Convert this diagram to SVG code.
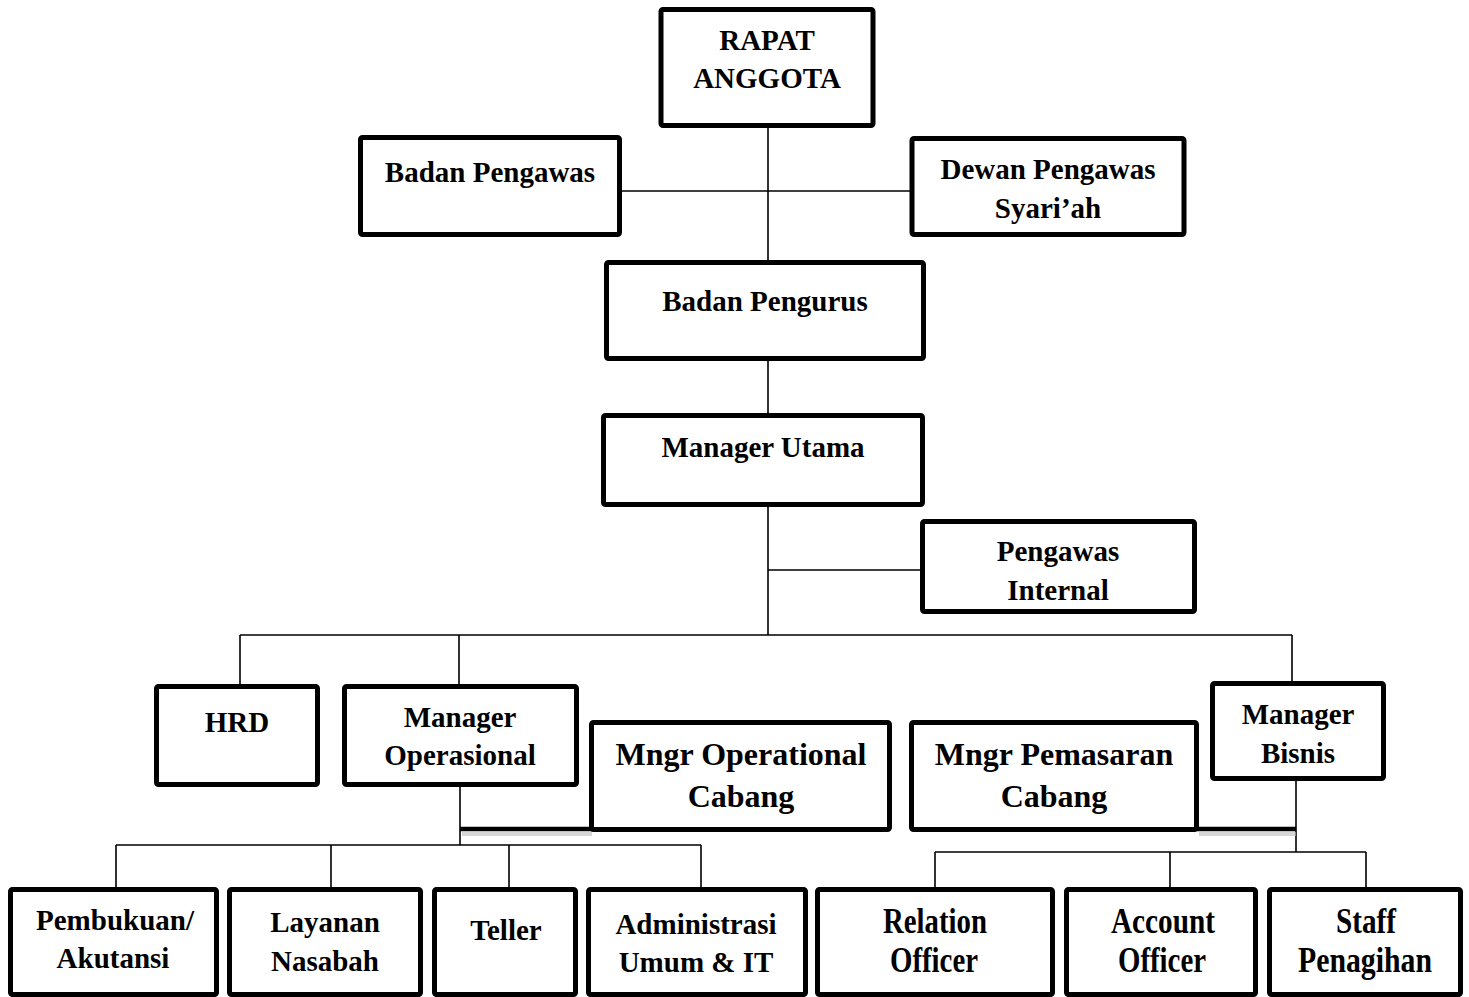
<svg xmlns="http://www.w3.org/2000/svg" width="1469" height="997" viewBox="0 0 1469 997">
<style>
.box{fill:#fff;stroke:#000;stroke-width:5}
.t{font-family:"Liberation Serif","Times New Roman",serif;font-weight:bold;font-size:29px;fill:#000;text-anchor:middle}
.b{font-size:32px}
.c{font-size:36px}
.ln{stroke:#000;stroke-width:1.6;fill:none}
.thick{stroke:#000;stroke-width:4.5;fill:none}
.sh{stroke:#bbb;stroke-width:4;fill:none;opacity:0.6}
</style>
<rect width="1469" height="997" fill="#fff"/>
<g id="connectors">
<path class="ln" d="M768 127V262M620 191H911M768 359V415M768 505V635M768 570H922M240 635H1292M240 635V686M459 635V686M1292 635V683"/>
<path class="ln" d="M460 785V845M116 845H701M116 845V888M331 845V888M509 845V888M701 845V888"/>
<path class="ln" d="M1296 779V852M935 852H1366M935 852V888M1170 852V888M1366 852V888"/>
<path class="sh" d="M462 834H592M1199 834H1296"/>
<path class="thick" d="M460 829H592M1197 829H1296"/>
</g>
<g id="rapat"><rect class="box" x="661" y="9.5" width="212" height="116" rx="2"/><text class="t" x="767" y="50">RAPAT</text><text class="t" x="767" y="88">ANGGOTA</text></g>
<g id="badan-pengawas"><rect class="box" x="360.5" y="137.5" width="259" height="97" rx="2"/><text class="t" x="490" y="182">Badan Pengawas</text></g>
<g id="dewan"><rect class="box" x="912" y="138.5" width="272" height="96" rx="2"/><text class="t" x="1048" y="179">Dewan Pengawas</text><text class="t" x="1048" y="218">Syari’ah</text></g>
<g id="badan-pengurus"><rect class="box" x="606.5" y="262.5" width="317" height="96" rx="2"/><text class="t" x="765" y="311">Badan Pengurus</text></g>
<g id="manager-utama"><rect class="box" x="603.5" y="415.5" width="319" height="89" rx="2"/><text class="t" x="763" y="457">Manager Utama</text></g>
<g id="pengawas-internal"><rect class="box" x="922.5" y="521.5" width="272" height="90" rx="2"/><text class="t" x="1058" y="561">Pengawas</text><text class="t" x="1058" y="600">Internal</text></g>
<g id="hrd"><rect class="box" x="156.5" y="686.5" width="161" height="98" rx="2"/><text class="t" x="237" y="732">HRD</text></g>
<g id="manager-operasional"><rect class="box" x="344.5" y="686.5" width="232" height="98" rx="2"/><text class="t" x="460" y="727">Manager</text><text class="t" x="460" y="765">Operasional</text></g>
<g id="mngr-op-cabang"><rect class="box" x="591.5" y="722.5" width="298" height="107" rx="2"/><text class="t b" x="741" y="765">Mngr Operational</text><text class="t b" x="741" y="807">Cabang</text></g>
<g id="mngr-pem-cabang"><rect class="box" x="911.5" y="722.5" width="285" height="107" rx="2"/><text class="t b" x="1054" y="765">Mngr Pemasaran</text><text class="t b" x="1054" y="807">Cabang</text></g>
<g id="manager-bisnis"><rect class="box" x="1212.5" y="683.5" width="171" height="95" rx="2"/><text class="t" x="1298" y="724">Manager</text><text class="t" x="1298" y="763">Bisnis</text></g>
<g id="pembukuan"><rect class="box" x="10.5" y="889.5" width="206" height="105" rx="2"/><text class="t" x="115" y="930">Pembukuan/</text><text class="t" x="113" y="968">Akutansi</text></g>
<g id="layanan"><rect class="box" x="229.5" y="889.5" width="191" height="105" rx="2"/><text class="t" x="325" y="932">Layanan</text><text class="t" x="325" y="971">Nasabah</text></g>
<g id="teller"><rect class="box" x="434.5" y="889.5" width="141" height="105" rx="2"/><text class="t" x="506" y="940">Teller</text></g>
<g id="administrasi"><rect class="box" x="588.5" y="889.5" width="217" height="105" rx="2"/><text class="t" x="696" y="934">Administrasi</text><text class="t" x="696" y="972">Umum &amp; IT</text></g>
<g id="relation"><rect class="box" x="817.5" y="889.5" width="235" height="105" rx="2"/><text class="t c" x="935" y="933" textLength="104" lengthAdjust="spacingAndGlyphs">Relation</text><text class="t c" x="934" y="972" textLength="88" lengthAdjust="spacingAndGlyphs">Officer</text></g>
<g id="account"><rect class="box" x="1066.5" y="889.5" width="189" height="105" rx="2"/><text class="t c" x="1163" y="933" textLength="104" lengthAdjust="spacingAndGlyphs">Account</text><text class="t c" x="1162" y="972" textLength="88" lengthAdjust="spacingAndGlyphs">Officer</text></g>
<g id="staff"><rect class="box" x="1269.5" y="889.5" width="191" height="105" rx="2"/><text class="t c" x="1366" y="933" textLength="60" lengthAdjust="spacingAndGlyphs">Staff</text><text class="t c" x="1365" y="972" textLength="134" lengthAdjust="spacingAndGlyphs">Penagihan</text></g>
</svg>
